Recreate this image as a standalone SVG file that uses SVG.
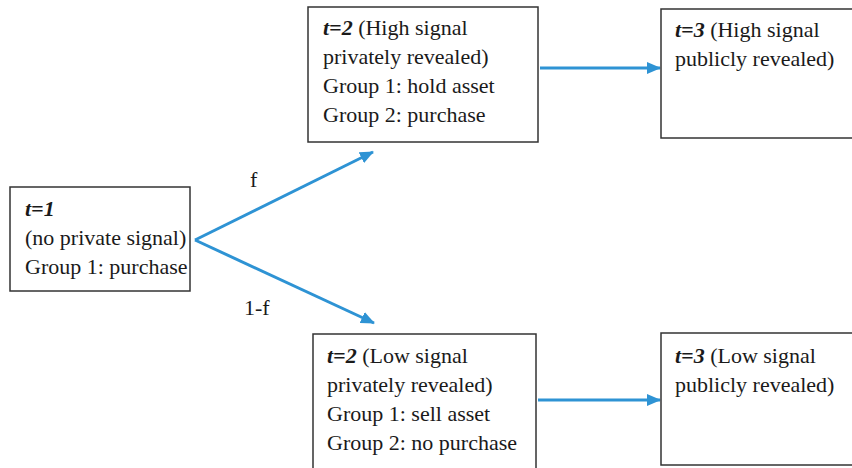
<svg xmlns="http://www.w3.org/2000/svg" width="852" height="468" viewBox="0 0 852 468">
<defs>
<style>
.box{fill:#fff;stroke:#333;stroke-width:1.5}
.t{font-family:'Liberation Serif','Times New Roman','DejaVu Serif',serif;font-size:22px;fill:#1a1a1a}
.b{font-weight:bold;font-style:italic}
.c{stroke:#2e93d4;stroke-width:3;fill:none}
</style>
<marker id="ah" markerWidth="14" markerHeight="12" refX="13" refY="6" orient="auto" markerUnits="userSpaceOnUse">
<path d="M0,0 L14,6 L0,12 Z" fill="#2e93d4"/>
</marker>
</defs>
<rect width="852" height="468" fill="#fff"/>
<g id="connectors">
<line class="c" x1="195" y1="240" x2="373" y2="152" marker-end="url(#ah)"/>
<line class="c" x1="195" y1="240" x2="374" y2="323" marker-end="url(#ah)"/>
<line class="c" x1="540" y1="68" x2="660" y2="68" marker-end="url(#ah)"/>
<line class="c" x1="538" y1="400" x2="660" y2="400" marker-end="url(#ah)"/>
<text class="t" x="250" y="187">f</text>
<text class="t" x="244" y="315">1-f</text>
</g>
<g id="n1">
<rect class="box" x="10" y="187" width="180" height="104"/>
<text class="t" x="25" y="216"><tspan class="b">t=1</tspan></text>
<text class="t" x="25" y="245">(no private signal)</text>
<text class="t" x="25" y="274">Group 1: purchase</text>
</g>
<g id="n2high">
<rect class="box" x="308" y="7" width="230" height="135"/>
<text class="t" x="323" y="35"><tspan class="b">t=2</tspan> (High signal</text>
<text class="t" x="323" y="64">privately revealed)</text>
<text class="t" x="323" y="93">Group 1: hold asset</text>
<text class="t" x="323" y="122">Group 2: purchase</text>
</g>
<g id="n3high">
<rect class="box" x="661" y="9" width="200" height="129"/>
<text class="t" x="675" y="37"><tspan class="b">t=3</tspan> (High signal</text>
<text class="t" x="675" y="66">publicly revealed)</text>
</g>
<g id="n2low">
<rect class="box" x="313" y="334" width="223" height="150"/>
<text class="t" x="327" y="363"><tspan class="b">t=2</tspan> (Low signal</text>
<text class="t" x="327" y="392">privately revealed)</text>
<text class="t" x="327" y="421">Group 1: sell asset</text>
<text class="t" x="327" y="450">Group 2: no purchase</text>
</g>
<g id="n3low">
<rect class="box" x="661" y="333" width="200" height="132"/>
<text class="t" x="675" y="363"><tspan class="b">t=3</tspan> (Low signal</text>
<text class="t" x="675" y="392">publicly revealed)</text>
</g>
</svg>
